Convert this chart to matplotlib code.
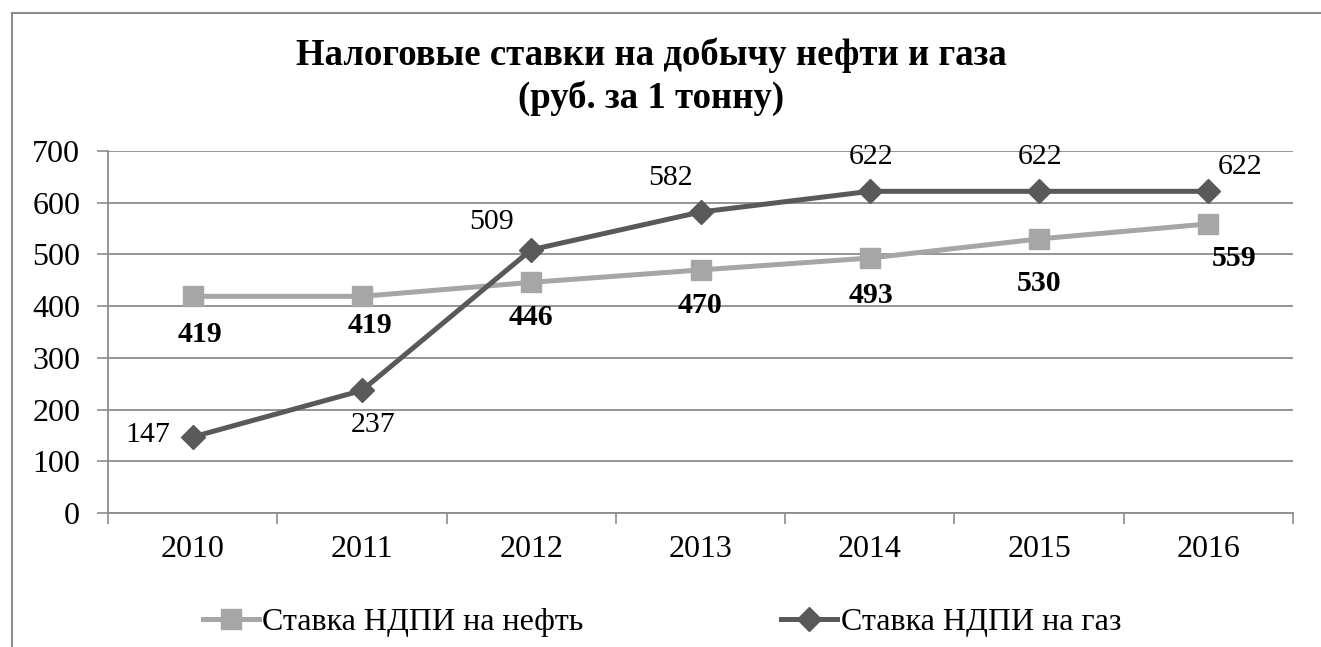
import numpy as np
import matplotlib.pyplot as plt
from matplotlib.lines import Line2D

# data
years = ['2010', '2011', '2012', '2013', '2014', '2015', '2016']
oil = [419, 419, 446, 470, 493, 530, 559]
gas = [147, 237, 509, 582, 622, 622, 622]

plt.rcParams['font.family'] = ['Liberation Serif', 'DejaVu Serif']

oil_color = '#A6A6A6'
gas_color = '#595959'
grid_color = '#8C8C8C'

fig = plt.figure(figsize=(13.21, 6.47), dpi=100)
ax = fig.add_axes([108/1321, 1-513/647, (1293-108)/1321, (513-151)/647])

x = np.arange(len(years))
ax.plot(x, oil, color=oil_color, lw=3.6, marker='s', ms=14, label='Ставка НДПИ на нефть', zorder=3)
ax.plot(x, gas, color=gas_color, lw=3.6, marker='D', ms=12, label='Ставка НДПИ на газ', zorder=4)

ax.set_xlim(-0.5, len(years) - 0.5)
ax.set_ylim(0, 700)
ax.set_yticks(range(0, 701, 100))
ax.set_xticks(x)
ax.set_xticklabels(years)
ax.set_xticks(np.arange(-0.5, len(years), 1), minor=True)
ax.tick_params(axis='x', which='major', length=0, pad=16, labelsize=23)
ax.tick_params(axis='x', which='minor', length=8, width=1.2, color=grid_color)
ax.tick_params(axis='y', length=8, width=1.2, color=grid_color, labelsize=23, pad=12)
ax.yaxis.grid(True, color=grid_color, lw=1.3)
ax.set_axisbelow(True)
for s in ['top', 'right']:
    ax.spines[s].set_visible(False)
for s in ['left', 'bottom']:
    ax.spines[s].set_color(grid_color)
    ax.spines[s].set_linewidth(1.3)

# labels for gas (offsets in pixels)
gas_off = [(-45, 2), (11, -35), (-40, 28), (-30, 34), (1, 34), (1, 34), (32, 24)]
for i, v in enumerate(gas):
    ax.annotate(str(v), (x[i], v), xytext=gas_off[i], textcoords='offset pixels',
                ha='center', va='center', fontsize=21.5)

oil_off = [(7, -38), (8, -29), (0, -35), (0, -36), (1, -37), (0, -45), (26, -35)]
for i, v in enumerate(oil):
    ax.annotate(str(v), (x[i], v), xytext=oil_off[i], textcoords='offset pixels',
                ha='center', va='center', fontsize=21.5, fontweight='bold')

fig.text(651/1321, 1-77/647, 'Налоговые ставки на добычу нефти и газа\n(руб. за 1 тонну)',
         ha='center', va='center', fontsize=26.5, fontweight='bold', linespacing=1.28)

fig.legend(loc='center', bbox_to_anchor=(662/1321, 1-622/647), ncol=2, frameon=False,
           fontsize=23, handlelength=1.75, handletextpad=0.1, columnspacing=6.2)

# chart border (left and top edges visible)
fig.lines.append(Line2D([12/1321, 12/1321], [0, 1-13/647], transform=fig.transFigure,
                        color=grid_color, lw=1.5))
fig.lines.append(Line2D([12/1321, 1], [1-13/647, 1-13/647], transform=fig.transFigure,
                        color=grid_color, lw=1.5))

fig.savefig('out.png', dpi=100)
